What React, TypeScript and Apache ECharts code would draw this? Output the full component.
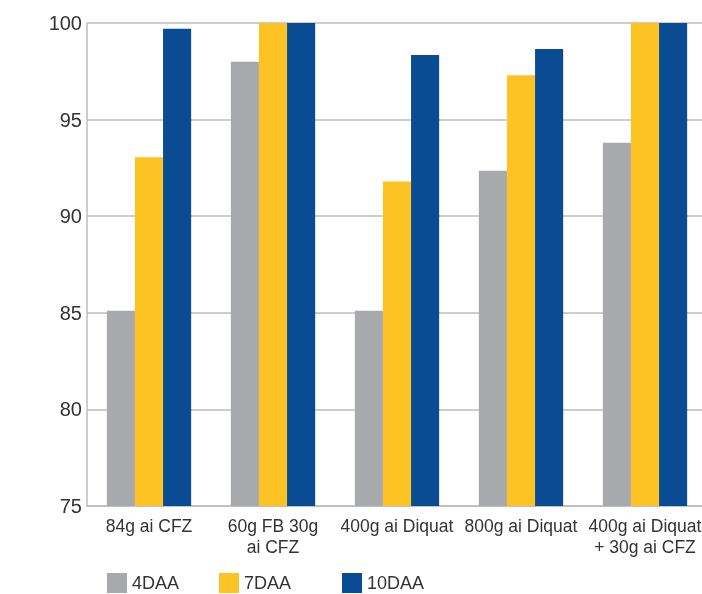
import React, { useEffect, useRef } from "react";
import * as echarts from "echarts";

const categories = [
  "84g ai CFZ",
  "60g FB 30g\nai CFZ",
  "400g ai Diquat",
  "800g ai Diquat",
  "400g ai Diquat\n+ 30g ai CFZ",
];
const seriesNames = ["4DAA", "7DAA", "10DAA"];
const daa4 = [85.1, 98.0, 85.1, 92.35, 93.8];
const daa7 = [93.05, 100, 91.8, 97.3, 100];
const daa10 = [99.7, 100, 98.35, 98.65, 100];
const colors = ["#A7A9AC", "#FDC323", "#0A4C93"];
const legendLefts = [107, 219, 342];

export default function App() {
  const ref = useRef<HTMLDivElement>(null);
  useEffect(() => {
    if (!ref.current) return;
    const chart = echarts.init(ref.current, undefined, { renderer: "svg" });
    const values = [daa4, daa7, daa10];
    chart.setOption({
      animation: false,
      textStyle: { fontFamily: "Liberation Sans, Arial, sans-serif" },
      grid: { left: 87, right: 0, top: 23, bottom: 88, containLabel: false },
      legend: seriesNames.map((n, i) => ({
        data: [n],
        left: legendLefts[i],
        top: 573,
        itemWidth: 20,
        itemHeight: 20,
        icon: "rect",
        padding: 0,
        textStyle: { fontSize: 18, color: "#333" },
      })),
      xAxis: {
        type: "category",
        data: categories,
        axisLine: { lineStyle: { color: "#bdbdbd", width: 1.5 } },
        axisTick: { show: false },
        axisLabel: {
          fontSize: 17.5,
          color: "#333",
          margin: 9,
          lineHeight: 21,
          interval: 0,
        },
      },
      yAxis: {
        type: "value",
        min: 75,
        max: 100,
        interval: 5,
        axisLine: { show: true, lineStyle: { color: "#bdbdbd", width: 1.5 } },
        axisTick: { show: false },
        axisLabel: { fontSize: 20, color: "#333", margin: 5 },
        splitLine: { lineStyle: { color: "#bdbdbd", width: 1.5 } },
      },
      series: seriesNames.map((n, i) => ({
        name: n,
        type: "bar",
        data: values[i],
        barGap: "0%",
        barCategoryGap: "32%",
        itemStyle: { color: colors[i] },
      })),
    });
    return () => chart.dispose();
  }, []);
  return (
    <div
      style={{
        position: "fixed",
        left: 0,
        top: 0,
        width: 702,
        height: 594,
        overflow: "hidden",
      }}
    >
      <div ref={ref} style={{ width: 707, height: 594 }} />
    </div>
  );
}
